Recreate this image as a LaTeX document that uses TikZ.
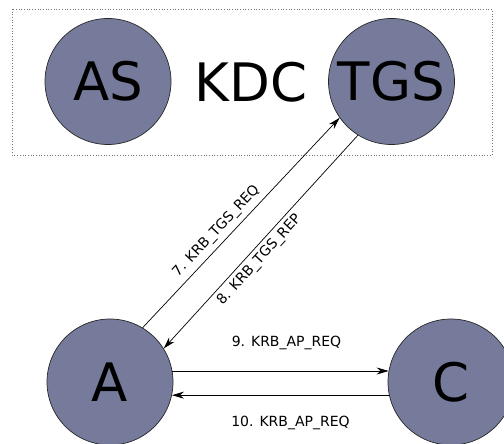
\documentclass[tikz,border=0pt]{standalone}
\usepackage{fontspec}
\setmainfont{DejaVu Sans}
\usepackage{xcolor}
\usepackage{tikz}
\usetikzlibrary{arrows.meta, positioning, calc}

\definecolor{hostblue}{RGB}{118,123,155}

\begin{document}
\begin{tikzpicture}[
    x=1pt, y=-1pt,
    host/.style={draw=black!85, line width=0.7pt, circle, minimum size=126pt, inner sep=0pt, fill=hostblue, font=\fontsize{53}{60}\selectfont},
    realm/.style={draw=black!55, dotted, line width=0.7pt},
    msg/.style={font=\fontsize{14}{16}\selectfont, inner sep=2pt},
    arrow/.style={line width=0.7pt, -{Stealth[length=12pt, width=7pt, inset=4pt]}}
]
\useasboundingbox (0,0) rectangle (504,444);
\begin{scope}
\clip (0,0) rectangle (504,444);
\draw[realm] (12,9) rectangle (492,155);
\node (AS) [host] at (108,81.5) {AS};
\node (TGS) [host] at (391.5,81.5) {TGS};
\node (kdc) at (251,82.5) {\fontsize{53}{60}\selectfont KDC};
\node (A) [host] at (110,382) {A};
\node (C) [host] at (451,382) {C};
% ticket granting exchange
\draw[arrow] (A.59) -- node[msg, pos=0.42, sloped, above=3pt] {7. KRB\_TGS\_REQ} (TGS.215);
\draw[arrow] (TGS.238) -- node[msg, pos=0.55, sloped, below=2pt] {8. KRB\_TGS\_REP} (A.32);
% client / server exchange
\draw[arrow] (A.10) -- node[msg, midway, above=19pt, xshift=6pt] {9. KRB\_AP\_REQ} (C.170);
\draw[arrow] (C.192) -- node[msg, midway, below=19pt, xshift=10pt] {10. KRB\_AP\_REQ} (A.-12);
\end{scope}
\end{tikzpicture}
\end{document}
